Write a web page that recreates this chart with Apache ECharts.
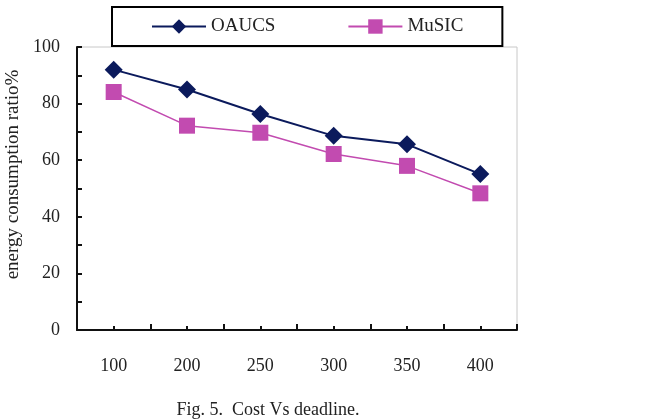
<!DOCTYPE html>
<html>
<head>
<meta charset="utf-8">
<script src="https://cdn.jsdelivr.net/npm/echarts@6/dist/echarts.min.js"></script>
<style>
  html, body { margin: 0; padding: 0; background: #fff; }
  #chart { width: 646px; height: 419px; }
</style>
</head>
<body>
<div id="chart"></div>
<script>
// data
const deadlines = ['100', '200', '250', '300', '350', '400'];
const oaucs     = [92, 85, 76.3, 68.6, 65.6, 55.1];
const music     = [84.1, 72.2, 69.7, 62.2, 58, 48.3];
const yTicks    = [0, 20, 40, 60, 80, 100];

const serif = '"Liberation Serif", "Times New Roman", serif';
const navy = '#0b1a5c', pink = '#c24bb0';

const chart = echarts.init(document.getElementById('chart'));
chart.setOption({
  animation: false,
  textStyle: { fontFamily: serif },
  grid: {
    left: 77, right: 129, top: 47, bottom: 89,
    outerBoundsMode: 'none', containLabel: false,
    show: true, borderColor: '#c8c8c8', borderWidth: 1
  },
  legend: {
    left: 112, top: 7,
    padding: [10, 39, 10, 39],
    backgroundColor: '#fff',
    borderColor: '#000', borderWidth: 2,
    itemWidth: 54, itemHeight: 18, itemGap: 72,
    textStyle: { fontFamily: serif, fontSize: 19, color: '#222' },
    data: ['OAUCS', 'MuSIC']
  },
  title: {
    text: 'Fig. 5.  Cost Vs deadline.',
    left: 263, textAlign: 'center', top: 396,
    textStyle: { fontFamily: serif, fontSize: 18, fontWeight: 'normal', color: '#222' }
  },
  xAxis: [{
    type: 'category', data: deadlines, boundaryGap: true,
    axisLine: { lineStyle: { color: '#111', width: 2 } },
    axisTick: { show: true, inside: true, length: 6, interval: 0, lineStyle: { color: '#111', width: 2 } },
    axisLabel: { margin: 27, fontSize: 18, color: '#222', fontFamily: serif },
    splitLine: { show: false }
  }, {
    type: 'category', data: deadlines, position: 'bottom', boundaryGap: true,
    axisLine: { show: false },
    axisTick: { show: true, inside: true, length: 4, alignWithLabel: true, interval: 0, lineStyle: { color: '#111', width: 2 } },
    axisLabel: { show: false },
    splitLine: { show: false }
  }],
  yAxis: {
    type: 'value', min: yTicks[0], max: yTicks[yTicks.length - 1], interval: 20,
    name: 'energy consumption ratio%',
    nameLocation: 'middle', nameRotate: 90, nameGap: 54,
    nameTextStyle: { fontFamily: serif, fontSize: 19, color: '#222', padding: [0, 0, 0, 28] },
    axisLine: { show: true, lineStyle: { color: '#111', width: 2 } },
    axisTick: { show: true, inside: true, length: 5, lineStyle: { color: '#111', width: 2 } },
    minorTick: { show: true, splitNumber: 2, length: 5, lineStyle: { color: '#111', width: 2 } },
    axisLabel: { margin: 17, fontSize: 18, color: '#222', fontFamily: serif },
    splitLine: { show: false }
  },
  series: [{
    name: 'OAUCS', type: 'line', data: oaucs,
    symbol: 'diamond', symbolSize: 18,
    lineStyle: { color: navy, width: 2 },
    itemStyle: { color: navy }
  }, {
    name: 'MuSIC', type: 'line', data: music,
    symbol: 'rect', symbolSize: 16,
    lineStyle: { color: pink, width: 1.5 },
    itemStyle: { color: pink }
  }]
});
</script>
</body>
</html>
